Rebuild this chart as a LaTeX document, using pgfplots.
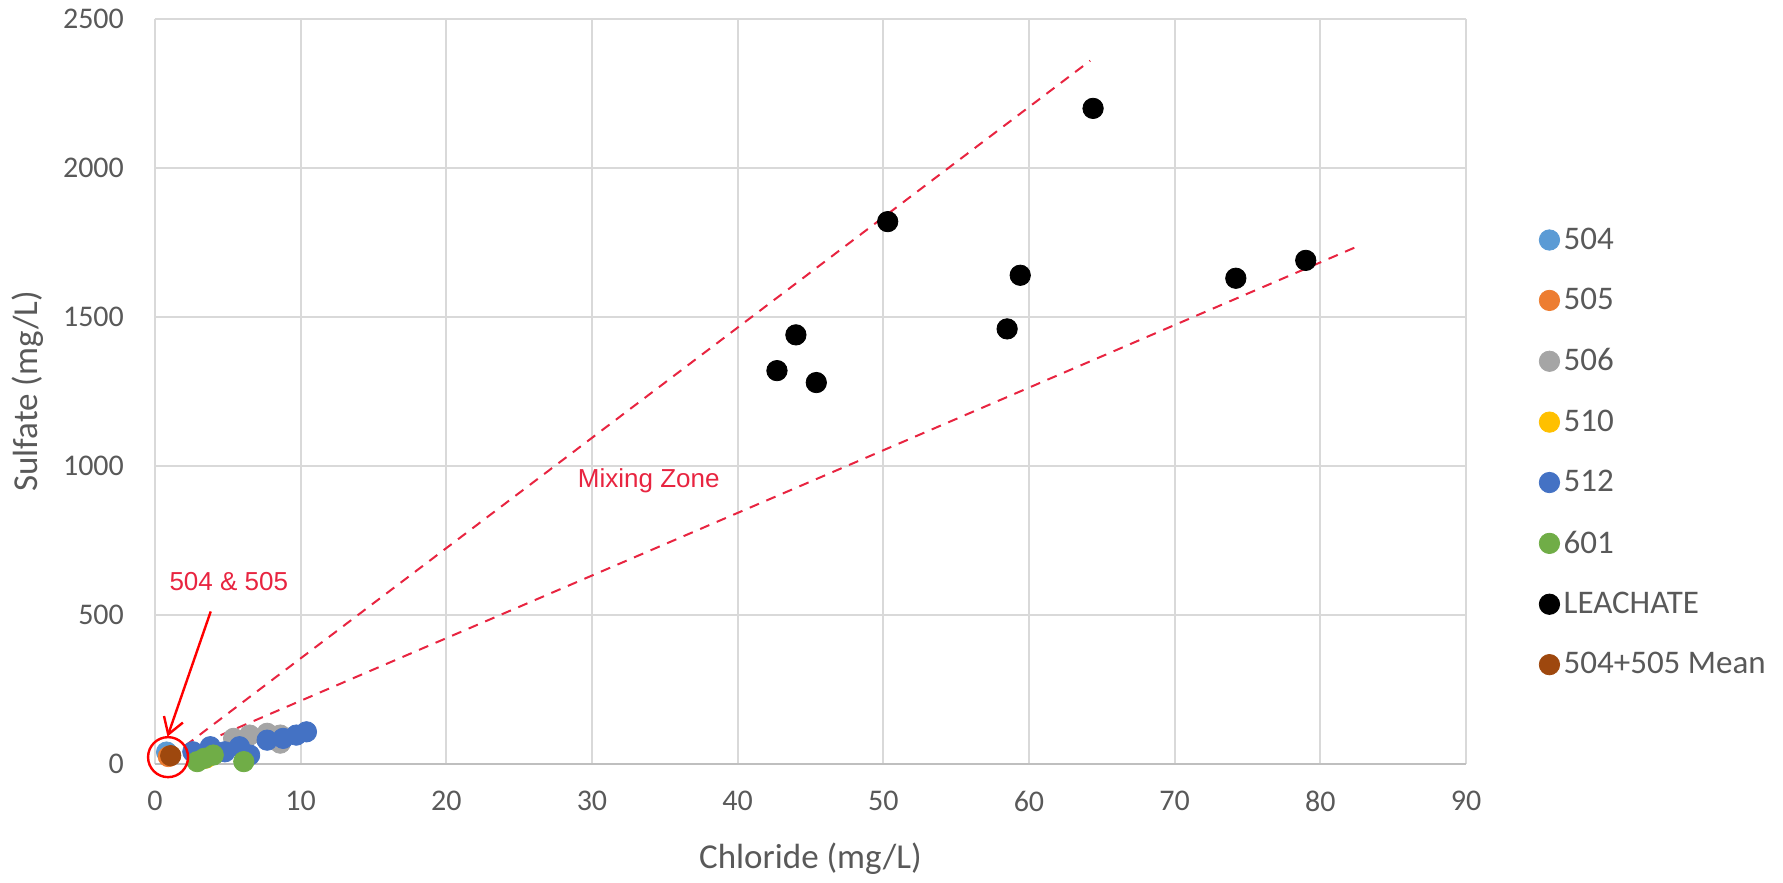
\documentclass[border=0pt]{standalone}
\usepackage{fontspec}
\setmainfont{Carlito}
\newfontfamily\arialfont{Liberation Sans}
\usepackage{pgfplots}
\pgfplotsset{compat=1.18}
\usetikzlibrary{arrows.meta}
\definecolor{c504}{RGB}{91,155,213}
\definecolor{c505}{RGB}{237,125,49}
\definecolor{c506}{RGB}{165,165,165}
\definecolor{c510}{RGB}{255,192,0}
\definecolor{c512}{RGB}{68,114,196}
\definecolor{c601}{RGB}{112,173,71}
\definecolor{cmean}{RGB}{158,72,14}
\definecolor{txtgray}{RGB}{89,89,89}
\definecolor{gridgray}{RGB}{217,217,217}
\definecolor{zonered}{RGB}{232,36,64}
\begin{document}
\begin{tikzpicture}
\begin{axis}[
  scale only axis,
  width=655.5pt, height=372.5pt,
  xmin=0, xmax=90, ymin=0, ymax=2500,
  xtick={0,10,...,90}, ytick={0,500,...,2500},
  axis line style={draw=none},
  grid=major,
  major grid style={gridgray, line width=1pt},
  tick style={draw=none},
  /pgf/number format/assume math mode=true,
  /pgf/number format/1000 sep={},
  tick label style={font=\fontsize{15}{18}\selectfont, text=txtgray},
  xticklabel shift=10pt,
  yticklabel shift=12pt,
  xlabel={Chloride (mg/L)}, ylabel={Sulfate (mg/L)},
  label style={font=\fontsize{17.5}{21}\selectfont, text=txtgray},
  xlabel style={at={(axis description cs:0.5,-0.127)}, anchor=center},
  ylabel style={at={(axis description cs:-0.097,0.5)}, anchor=center, rotate=0},
  legend style={draw=none, fill=none, at={(rel axis cs:1.051,0.731)}, anchor=north west,
    font=\fontsize{16.5}{19}\selectfont, text=txtgray, row sep=14pt},
  legend cell align=left,
  legend image code/.code={\draw[mark repeat=2,mark phase=2,#1] plot coordinates {(0pt,0pt)(5pt,0pt)(10pt,0pt)};},
  clip=false,
]
\path (rel axis cs:-0.1182,-0.1584) rectangle (rel axis cs:1.2418,1.0255);
% axis frame lines
\addplot[forget plot, draw={rgb,255:red,191;green,191;blue,191}, line width=1pt] coordinates {(0,0) (90,0)};
\addplot[only marks, mark=*, mark size=5.1pt, c504, mark options={draw=c504, fill=c504}] coordinates {(0.8,40)};
\addlegendentry{504}
\addplot[only marks, mark=*, mark size=5.1pt, c505, mark options={draw=c505, fill=c505}] coordinates {(0.92,25)};
\addlegendentry{505}
\addplot[only marks, mark=*, mark size=5.1pt, c506, mark options={draw=c506, fill=c506}] coordinates {(5.4,86) (6.5,97) (7.7,103) (8.6,97) (8.6,70)};
\addlegendentry{506}
\addplot[only marks, mark=*, mark size=5.1pt, c510, mark options={draw=c510, fill=c510}] coordinates {(3.5,20)};
\addlegendentry{510}
\addplot[only marks, mark=*, mark size=5.1pt, c512, mark options={draw=c512, fill=c512}] coordinates {(2.6,41) (3.8,58) (4.8,41) (5.8,58) (6.5,30) (7.7,80) (8.8,86) (9.7,97) (10.4,108)};
\addlegendentry{512}
\addplot[only marks, mark=*, mark size=5.1pt, c601, mark options={draw=c601, fill=c601}] coordinates {(2.9,8) (3.4,19) (4.0,30) (6.1,8)};
\addlegendentry{601}
\addplot[only marks, mark=*, mark size=5.1pt, black, mark options={draw=black, fill=black}] coordinates {(42.7,1320) (44.0,1440) (45.4,1280) (50.3,1820) (58.5,1460) (59.4,1640) (64.4,2200) (74.2,1630) (79.0,1690)};
\addlegendentry{LEACHATE}
\addplot[only marks, mark=*, mark size=5.1pt, cmean, mark options={draw=cmean, fill=cmean}] coordinates {(1.08,28)};
\addlegendentry{504+505 Mean}
% mixing zone lines
\addplot[forget plot, zonered, line width=1pt, dash pattern=on 5pt off 4pt] coordinates {(1.1,25) (64.2,2360)};
\addplot[forget plot, zonered, line width=1pt, dash pattern=on 5pt off 4pt] coordinates {(1.1,25) (82.7,1740)};
% circle around 504 & 505
\addplot[forget plot, only marks, mark=o, mark size=10pt, mark options={draw=red, line width=1.2pt}] coordinates {(0.9,23)};
\draw[red, line width=1.2pt, -{Straight Barb[length=8pt,width=10pt,line width=1.2pt]}] (axis cs:3.83,512) -- (axis cs:0.86,92);
\node[text=zonered, font=\arialfont\fontsize{13}{15}\selectfont] at (axis cs:5.07,612) {504 \& 505};
\node[text=zonered, font=\arialfont\fontsize{13}{15}\selectfont] at (axis cs:33.9,952) {Mixing Zone};
\end{axis}
\end{tikzpicture}
\end{document}
